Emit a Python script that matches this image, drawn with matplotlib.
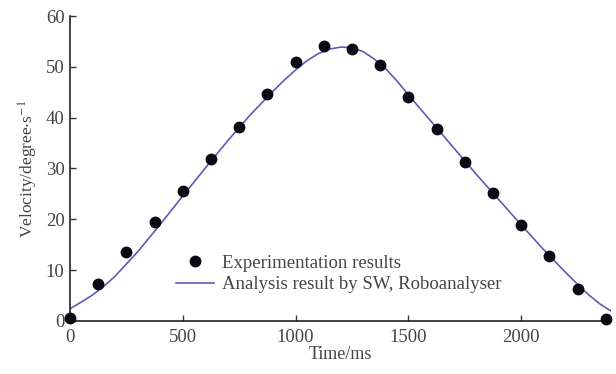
import matplotlib
matplotlib.use("Agg")
import matplotlib.pyplot as plt

# measured velocity (every 125 ms)
t_exp = [0, 125, 250, 375, 500, 625, 750, 875, 1000, 1125,
         1250, 1375, 1500, 1625, 1750, 1875, 2000, 2125, 2250, 2375]
v_exp = [0.6, 7.3, 13.5, 19.4, 25.5, 31.9, 38.2, 44.6, 50.9, 54.1,
         53.5, 50.3, 44.0, 37.8, 31.3, 25.1, 18.8, 12.7, 6.3, 0.3]

# SW / Roboanalyser simulation curve
t_sim = [0, 50, 100, 150, 200, 300, 400, 500, 600, 700, 800, 900,
         950, 1000, 1050, 1100, 1150, 1200, 1250, 1300, 1350, 1400,
         1450, 1500, 1600, 1700, 1800, 1900, 2000, 2100, 2200, 2250,
         2300, 2350, 2400]
v_sim = [2.4, 3.7, 5.1, 6.8, 8.8, 13.6, 19.0, 24.6, 30.1, 35.5, 40.6, 45.2,
         47.4, 49.4, 51.2, 52.6, 53.5, 53.9, 53.8, 53.0, 51.5, 49.6,
         47.2, 44.5, 39.3, 34.1, 28.9, 23.9, 18.9, 14.0, 9.4, 7.2,
         5.1, 3.3, 1.9]

plt.rcParams['font.family'] = ['Liberation Serif', 'DejaVu Serif']
plt.rcParams['mathtext.fontset'] = 'stix'

fig = plt.figure(figsize=(6.16, 3.74), dpi=100)
ax = fig.add_axes([0.1136, 0.142, 0.879, 0.815])

ax.plot(t_sim, v_sim, color='#5c5cb4', lw=1.2,
        label='Analysis result by SW, Roboanalyser', zorder=2)
ax.plot(t_exp, v_exp, 'o', color='#0a0a14', ms=7.5,
        label='Experimentation results', clip_on=False, zorder=3)

ax.set_xlim(0, 2400)
ax.set_ylim(0, 60)
ax.set_xticks([0, 500, 1000, 1500, 2000])
ax.set_yticks([0, 10, 20, 30, 40, 50, 60])

for s in ['top', 'right']:
    ax.spines[s].set_visible(False)
for s in ['left', 'bottom']:
    ax.spines[s].set_linewidth(1.2)
    ax.spines[s].set_color('#222222')

ax.tick_params(direction='in', length=4, width=1, labelsize=13.5,
               labelcolor='#444444', color='#333333')
ax.tick_params(axis='x', pad=6)
ax.tick_params(axis='y', pad=4)
ax.set_xlabel('Time/ms', fontsize=13, color='#444444', labelpad=0)
ax.set_ylabel(r'Velocity/degree$\cdot$s$^{-1}$', fontsize=12.5,
              color='#444444', labelpad=4)

handles, labels = ax.get_legend_handles_labels()
ax.legend(handles[::-1], labels[::-1], loc='lower left',
          bbox_to_anchor=(0.165, 0.035), frameon=False, fontsize=13.5,
          handlelength=2.0, handletextpad=0.45, labelspacing=0.25,
          labelcolor='#444444')

fig.savefig('out.png', dpi=100)
